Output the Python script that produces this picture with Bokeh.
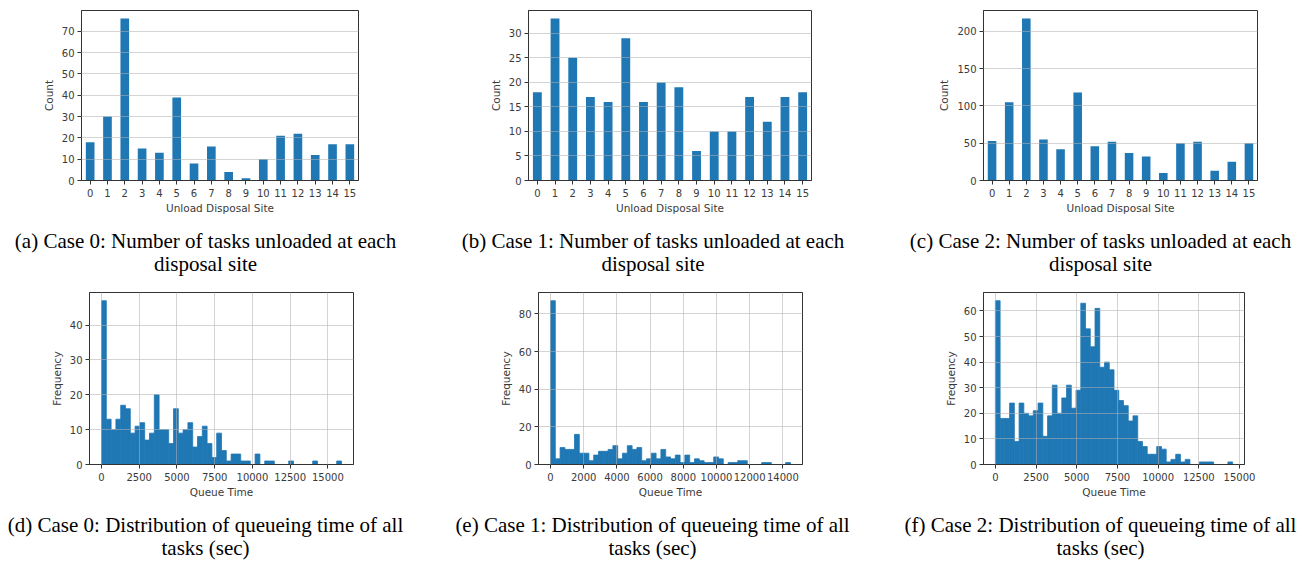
import numpy as np
from bokeh.plotting import figure
from bokeh.layouts import column, row
from bokeh.models import Range1d, FixedTicker
from bokeh.core.properties import value
from bokeh.embed import file_html
from bokeh.resources import INLINE

# ---------------- data ----------------
SITES = list(range(16))
CASE0_COUNTS = [18, 30, 76, 15, 13, 39, 8, 16, 4, 1, 10, 21, 22, 12, 17, 17]
CASE1_COUNTS = [18, 33, 25, 17, 16, 29, 16, 20, 19, 6, 10, 10, 17, 12, 17, 18]
CASE2_COUNTS = [53, 105, 217, 55, 42, 118, 46, 52, 37, 32, 10, 50, 52, 13, 25, 50]

HIST0_COUNTS = [47, 13, 10, 13, 17, 16, 9, 11, 12, 7,
                9, 20, 10, 10, 6, 16, 9, 10, 12, 5,
                8, 11, 6, 2, 9, 4, 1, 3, 3, 1,
                1, 0, 3, 0, 1, 1, 0, 0, 0, 1,
                0, 0, 0, 0, 1, 0, 0, 0, 0, 1]
HIST1_COUNTS = [87, 3, 9, 8, 8, 16, 6, 6, 2, 5,
                7, 7, 8, 10, 3, 6, 10, 8, 9, 2,
                3, 6, 3, 8, 4, 3, 5, 1, 5, 1,
                3, 2, 1, 1, 4, 3, 0, 1, 1, 2,
                2, 0, 0, 0, 1, 1, 0, 0, 0, 1]
HIST2_COUNTS = [64, 18, 18, 24, 9, 24, 20, 19, 21, 24,
                11, 19, 31, 20, 26, 31, 22, 29, 63, 53,
                46, 61, 38, 40, 37, 29, 25, 23, 17, 19,
                9, 7, 4, 4, 7, 6, 1, 2, 4, 1,
                2, 0, 0, 1, 1, 1, 0, 0, 0, 1]
HIST0_RANGE = (0, 15900)
HIST1_RANGE = (0, 14460)
HIST2_RANGE = (0, 14580)

A_YTICKS = [0, 10, 20, 30, 40, 50, 60, 70]
B_YTICKS = [0, 5, 10, 15, 20, 25, 30]
C_YTICKS = [0, 50, 100, 150, 200]
D_XTICKS = [0, 2500, 5000, 7500, 10000, 12500, 15000]
D_YTICKS = [0, 10, 20, 30, 40]
E_XTICKS = [0, 2000, 4000, 6000, 8000, 10000, 12000, 14000]
E_YTICKS = [0, 20, 40, 60, 80]
F_XTICKS = [0, 2500, 5000, 7500, 10000, 12500, 15000]
F_YTICKS = [0, 10, 20, 30, 40, 50, 60]

CAPTIONS = [
    ["(a) Case 0: Number of tasks unloaded at each", "disposal site"],
    ["(b) Case 1: Number of tasks unloaded at each", "disposal site"],
    ["(c) Case 2: Number of tasks unloaded at each", "disposal site"],
    ["(d) Case 0: Distribution of queueing time of all", "tasks (sec)"],
    ["(e) Case 1: Distribution of queueing time of all", "tasks (sec)"],
    ["(f) Case 2: Distribution of queueing time of all", "tasks (sec)"],
]

BLUE = "#1f77b4"
TXT = "#3a3a3a"
AXC = "#333333"


def base_fig(width, height, fl, fr, ft, fb, xr, yr, xticks, yticks, xlabel, ylabel, xgrid):
    p = figure(width=width, height=height,
               min_border_left=fl, min_border_right=width - fr,
               min_border_top=ft, min_border_bottom=height - fb,
               x_range=Range1d(*xr), y_range=Range1d(*yr),
               output_backend="svg", toolbar_location=None)
    p.background_fill_color = "white"
    p.border_fill_color = "white"
    p.outline_line_color = AXC
    p.outline_line_width = 1
    for ax in (p.xaxis[0], p.yaxis[0]):
        ax.axis_line_color = AXC
        ax.major_tick_line_color = AXC
        ax.major_tick_out = 4
        ax.major_tick_in = 0
        ax.minor_tick_line_color = None
        ax.major_label_text_font = "DejaVu Sans"
        ax.major_label_text_font_size = "10px"
        ax.major_label_text_color = TXT
        ax.axis_label_text_font = "DejaVu Sans"
        ax.axis_label_text_font_size = "10.5px"
        ax.axis_label_text_font_style = "normal"
        ax.axis_label_text_color = TXT
    p.xaxis[0].major_label_standoff = 4
    p.yaxis[0].major_label_standoff = 3
    p.xaxis[0].ticker = FixedTicker(ticks=xticks)
    p.yaxis[0].ticker = FixedTicker(ticks=yticks)
    p.xaxis[0].axis_label = xlabel
    p.yaxis[0].axis_label = ylabel
    p.xaxis[0].axis_label_standoff = 2
    p.yaxis[0].axis_label_standoff = 4
    p.xgrid.visible = xgrid
    for g in (p.xgrid[0], p.ygrid[0]):
        g.grid_line_color = "#b0b0b0"
        g.grid_line_alpha = 0.55
        g.grid_line_width = 1
        g.level = "overlay"
    return p


def bar_fig(values, yticks, width, height, fl, fr, ft, fb):
    xr = (-0.5, 15.5)
    yr = (0, max(values) * 1.05)
    p = base_fig(width, height, fl, fr, ft, fb, xr, yr, SITES, yticks,
                 "Unload Disposal Site", "Count", False)
    p.vbar(x=SITES, top=values, width=0.5, bottom=0, fill_color=BLUE, line_color=None)
    return p


def hist_fig(counts, rng, xticks, yticks, width, height, fl, fr, ft, fb):
    lo, hi = rng
    edges = np.linspace(lo, hi, len(counts) + 1)
    span = hi - lo
    xr = (lo - 0.05 * span, hi + 0.05 * span)
    yr = (0, max(counts) * 1.05)
    p = base_fig(width, height, fl, fr, ft, fb, xr, yr, xticks, yticks,
                 "Queue Time", "Frequency", True)
    p.quad(left=edges[:-1], right=edges[1:], bottom=0, top=counts,
           fill_color=BLUE, line_color=BLUE, line_width=0.8)
    return p


def caption_fig(width, height, lines, cx, cys):
    p = figure(width=width, height=height, min_border=0,
               x_range=Range1d(0, width), y_range=Range1d(height, 0),
               x_axis_location=None, y_axis_location=None,
               output_backend="svg", toolbar_location=None)
    p.outline_line_color = None
    p.background_fill_color = "white"
    p.border_fill_color = "white"
    p.grid.visible = False
    p.text(x=[cx] * len(lines), y=list(cys), text=lines,
           text_font=value("Liberation Serif"), text_font_size="21px",
           text_align="center", text_baseline="middle", text_color="black")
    return p


W = [440, 445, 423]
H_TOP, H_CAP1, H_BOT, H_CAP2 = 220, 60, 220, 60

pa = bar_fig(CASE0_COUNTS, A_YTICKS, W[0], H_TOP, 81, 358, 10, 180)
pb = bar_fig(CASE1_COUNTS, B_YTICKS, W[1], H_TOP, 88, 371, 8, 182)
pc = bar_fig(CASE2_COUNTS, C_YTICKS, W[2], H_TOP, 98, 372, 9, 181)

ca = caption_fig(W[0], H_CAP1, CAPTIONS[0], 205, (20.5, 43))
cb = caption_fig(W[1], H_CAP1, CAPTIONS[1], 212.5, (20.5, 43))
cc = caption_fig(W[2], H_CAP1, CAPTIONS[2], 215, (20.5, 43))

pd = hist_fig(HIST0_COUNTS, HIST0_RANGE, D_XTICKS, D_YTICKS, W[0], H_BOT, 89, 353, 11, 184)
pe = hist_fig(HIST1_COUNTS, HIST1_RANGE, E_XTICKS, E_YTICKS, W[1], H_BOT, 98, 362, 10, 184)
pf = hist_fig(HIST2_COUNTS, HIST2_RANGE, F_XTICKS, F_YTICKS, W[2], H_BOT, 98, 359, 12, 184)

cd = caption_fig(W[0], H_CAP2, CAPTIONS[3], 205, (24, 47))
ce = caption_fig(W[1], H_CAP2, CAPTIONS[4], 212, (24, 47))
cf = caption_fig(W[2], H_CAP2, CAPTIONS[5], 215, (24, 47))

layout = column(row(pa, pb, pc), row(ca, cb, cc), row(pd, pe, pf), row(cd, ce, cf))
open("out.html", "w").write(file_html(layout, INLINE))
